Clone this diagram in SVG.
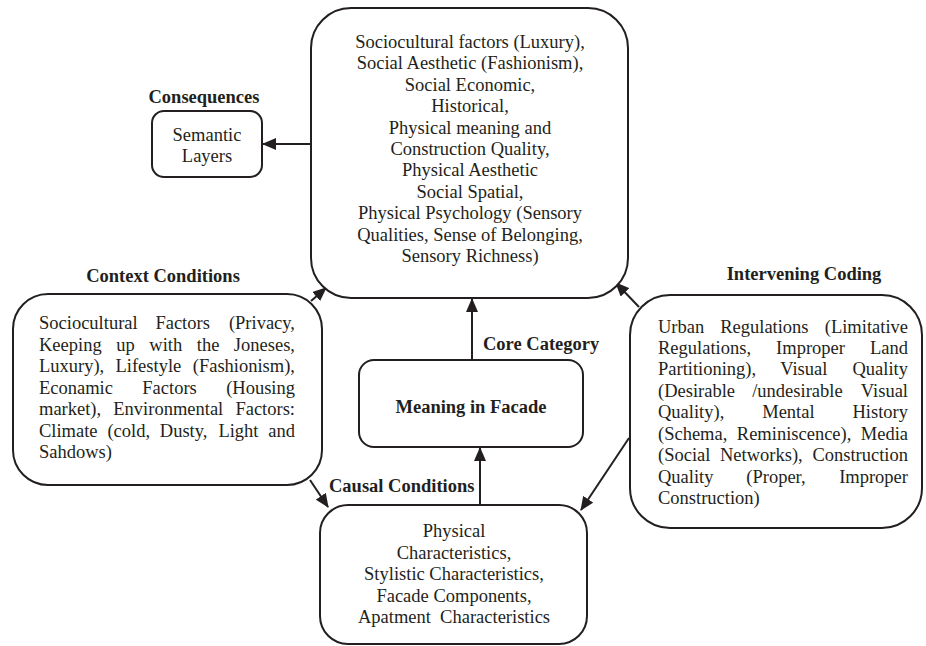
<svg xmlns="http://www.w3.org/2000/svg" width="926" height="646" viewBox="0 0 926 646">
<defs>
<style>
.box{fill:#fff;stroke:#231f20;stroke-width:2}
.t{font-family:"Liberation Serif","Times New Roman",serif;font-size:18.5px;fill:#231f20}
.c{text-anchor:middle}
.e{text-anchor:end}
.b{font-weight:bold}
.con{stroke:#231f20;stroke-width:2;fill:none;marker-end:url(#ah)}
</style>
<marker id="ah" markerUnits="userSpaceOnUse" markerWidth="14" markerHeight="12" refX="13" refY="6" orient="auto">
<path d="M0,0 L14,6 L0,12 z" fill="#231f20"/>
</marker>
</defs>
<rect width="926" height="646" fill="#fff"/>

<g id="connectors">
<line class="con" x1="311" y1="144" x2="263" y2="144"/>
<line class="con" x1="472" y1="360" x2="472" y2="299"/>
<line class="con" x1="480" y1="505" x2="480" y2="448"/>
<line class="con" x1="311" y1="301" x2="326" y2="288"/>
<line class="con" x1="639" y1="307" x2="616" y2="283"/>
<line class="con" x1="310" y1="480" x2="328" y2="507"/>
<line class="con" x1="629" y1="438" x2="581" y2="510"/>
</g>

<g id="top-box">
<rect class="box" x="311" y="8" width="317" height="290" rx="40"/>
<text class="t c" x="470" y="48">Sociocultural factors (Luxury),</text>
<text class="t c" x="470" y="69.4">Social Aesthetic (Fashionism),</text>
<text class="t c" x="470" y="90.8">Social Economic,</text>
<text class="t c" x="470" y="112.2">Historical,</text>
<text class="t c" x="470" y="133.6">Physical meaning and</text>
<text class="t c" x="470" y="155">Construction Quality,</text>
<text class="t c" x="470" y="176.4">Physical Aesthetic</text>
<text class="t c" x="470" y="197.8">Social Spatial,</text>
<text class="t c" x="470" y="219.2">Physical Psychology (Sensory</text>
<text class="t c" x="470" y="240.6">Qualities, Sense of Belonging,</text>
<text class="t c" x="470" y="262">Sensory Richness)</text>
</g>

<g id="consequences">
<text class="t c b" x="204" y="103">Consequences</text>
<rect class="box" x="152" y="111" width="110" height="66" rx="12"/>
<text class="t c" x="207" y="140.5">Semantic</text>
<text class="t c" x="207" y="162">Layers</text>
</g>

<g id="context">
<text class="t c b" x="163" y="282">Context Conditions</text>
<rect class="box" x="13" y="294" width="309" height="191" rx="35"/>
<text class="t" x="39" y="329">Sociocultural</text><text class="t" x="155.4" y="329">Factors</text><text class="t e" x="295" y="329">(Privacy,</text>
<text class="t" x="39" y="350.5">Keeping</text><text class="t" x="116.2" y="350.5">up</text><text class="t" x="149.3" y="350.5">with</text><text class="t" x="196.8" y="350.5">the</text><text class="t e" x="295" y="350.5">Joneses,</text>
<text class="t" x="39" y="372">Luxury),</text><text class="t" x="115.5" y="372">Lifestyle</text><text class="t e" x="295" y="372">(Fashionism),</text>
<text class="t" x="39" y="393.5">Econamic</text><text class="t" x="142.3" y="393.5">Factors</text><text class="t e" x="295" y="393.5">(Housing</text>
<text class="t" x="39" y="415">market),</text><text class="t" x="113.3" y="415">Environmental</text><text class="t e" x="295" y="415">Factors:</text>
<text class="t" x="39" y="436.5">Climate</text><text class="t" x="107.4" y="436.5">(cold,</text><text class="t" x="159.8" y="436.5">Dusty,</text><text class="t" x="218.4" y="436.5">Light</text><text class="t e" x="295" y="436.5">and</text>
<text class="t" x="39" y="458">Sahdows)</text>
</g>

<g id="intervening">
<text class="t c b" x="804" y="280">Intervening Coding</text>
<rect class="box" x="630" y="295" width="292" height="233" rx="40"/>
<text class="t" x="658" y="332.5">Urban</text><text class="t" x="720.2" y="332.5">Regulations</text><text class="t e" x="908" y="332.5">(Limitative</text>
<text class="t" x="658" y="354">Regulations,</text><text class="t" x="776.1" y="354">Improper</text><text class="t e" x="908" y="354">Land</text>
<text class="t" x="658" y="375.4">Partitioning),</text><text class="t" x="780.2" y="375.4">Visual</text><text class="t e" x="908" y="375.4">Quality</text>
<text class="t" x="658" y="396.9">(Desirable</text><text class="t" x="752.2" y="396.9">/undesirable</text><text class="t e" x="908" y="396.9">Visual</text>
<text class="t" x="658" y="418.3">Quality),</text><text class="t" x="762.2" y="418.3">Mental</text><text class="t e" x="908" y="418.3">History</text>
<text class="t" x="658" y="439.8">(Schema,</text><text class="t" x="736.8" y="439.8">Reminiscence),</text><text class="t e" x="908" y="439.8">Media</text>
<text class="t" x="658" y="461.2">(Social</text><text class="t" x="720" y="461.2">Networks),</text><text class="t e" x="908" y="461.2">Construction</text>
<text class="t" x="658" y="482.7">Quality</text><text class="t" x="746.3" y="482.7">(Proper,</text><text class="t e" x="908" y="482.7">Improper</text>
<text class="t" x="658" y="504.1">Construction)</text>
</g>

<g id="core">
<text class="t b" x="483" y="350">Core Category</text>
<rect class="box" x="359" y="360" width="224" height="87" rx="15"/>
<text class="t c b" x="471" y="413">Meaning in Facade</text>
</g>

<g id="causal">
<text class="t b" x="329" y="492">Causal Conditions</text>
<rect class="box" x="320" y="505" width="267" height="139" rx="28"/>
<text class="t c" x="454" y="537">Physical</text>
<text class="t c" x="454" y="558.5">Characteristics,</text>
<text class="t c" x="454" y="580">Stylistic Characteristics,</text>
<text class="t c" x="454" y="601.5">Facade Components,</text>
<text class="t c" x="454" y="623" xml:space="preserve">Apatment  Characteristics</text>
</g>
</svg>
